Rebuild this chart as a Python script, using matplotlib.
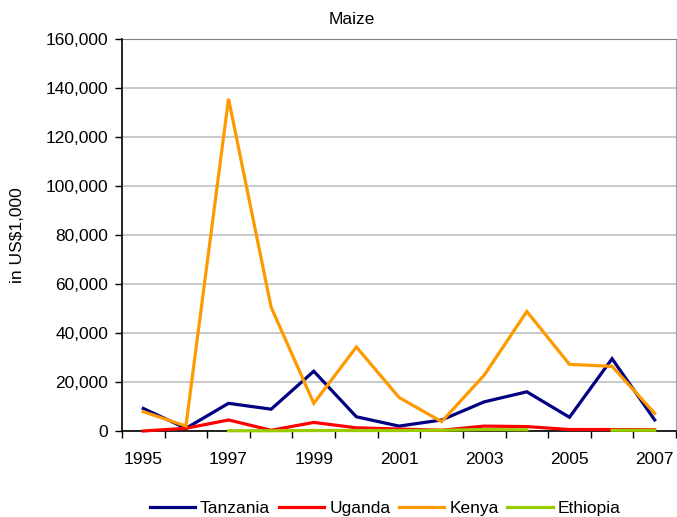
import numpy as np
import matplotlib
matplotlib.use("Agg")
import matplotlib.pyplot as plt
from matplotlib.ticker import FuncFormatter, FixedLocator

plt.rcParams['font.family'] = ['Liberation Sans', 'DejaVu Sans']

years = list(range(1995, 2008))
tanzania = [9200, 1100, 11300, 8900, 24400, 5800, 2000, 4500, 11900, 16000, 5600, 29500, 4500]
uganda = [0, 1100, 4500, 300, 3500, 1300, 800, 300, 2000, 1800, 600, 600, 500]
kenya = [7900, 2000, 135600, 50500, 11300, 34300, 13700, 3800, 22800, 48800, 27200, 26400, 7200]
ethiopia = [np.nan, np.nan, 100, 100, 200, 200, 200, 300, 600, 500, np.nan, 300, 300]

series = [
    ("Tanzania", tanzania, "#000080"),
    ("Uganda", uganda, "#FF0000"),
    ("Kenya", kenya, "#FF9900"),
    ("Ethiopia", ethiopia, "#99CC00"),
]

fig = plt.figure(figsize=(6.77, 5.17), dpi=100)
ax = fig.add_axes([122 / 677, 1 - 431 / 517, (676 - 122) / 677, (431 - 39) / 517])

for name, vals, col in series:
    ax.plot(years, vals, color=col, lw=2.3, label=name, solid_joinstyle='miter',
            zorder=4, clip_on=False)

ax.set_xlim(years[0] - 0.5, years[-1] + 0.5)
ax.set_ylim(0, 160000)
ax.yaxis.set_major_locator(FixedLocator(np.arange(0, 160001, 20000)))
ax.yaxis.set_major_formatter(FuncFormatter(lambda v, p: f"{int(v):,}"))
ax.grid(axis='y', color='#c0c0c0', lw=1.2)
ax.set_axisbelow(True)

ax.set_xticks(years[::2])
ax.set_xticks(np.arange(years[0] - 0.5, years[-1] + 1), minor=True)
ax.tick_params(axis='x', which='major', length=0, pad=15, labelsize=12.5)
ax.tick_params(axis='x', which='minor', length=5, width=1, direction='out')
ax.tick_params(axis='y', length=5, width=1, direction='out', labelsize=12.5, pad=5)

for s in ['left', 'bottom']:
    ax.spines[s].set_color('black')
    ax.spines[s].set_linewidth(1.2)
    ax.spines[s].set_zorder(3)
ax.spines['top'].set_color('#808080')
ax.spines['right'].set_color('#a0a0a0')

fig.text(352 / 677, 1 - 20 / 517, "Maize", ha='center', va='center', fontsize=12.5)
fig.text(18 / 677, 1 - 235 / 517, "in US$1,000", rotation=90, ha='center', va='center', fontsize=12.5)

fig.legend(loc='center', bbox_to_anchor=(0.569, 0.016), ncol=4, frameon=False,
           fontsize=12.5, handlelength=2.6, columnspacing=0.5, handletextpad=0.3)

fig.savefig("out.png", dpi=100)
